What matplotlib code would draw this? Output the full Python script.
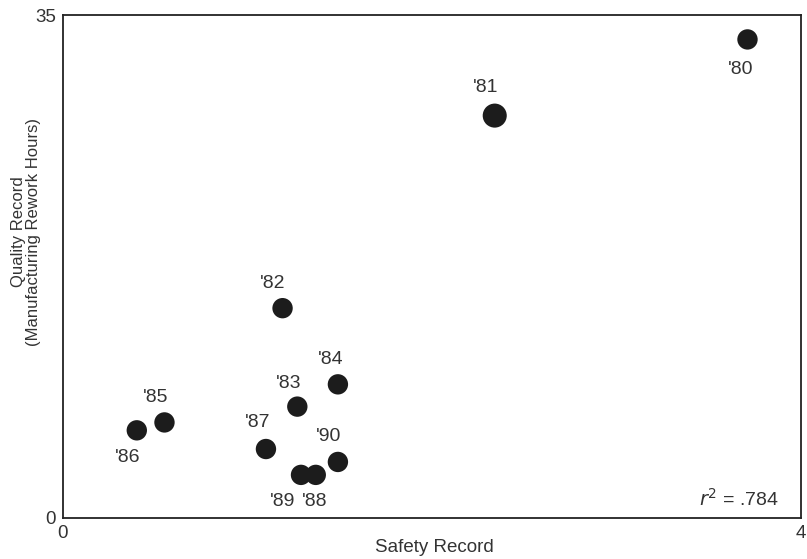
import matplotlib.pyplot as plt

# yearly safety vs quality record
years = ["'80", "'81", "'82", "'83", "'84", "'85", "'86", "'87", "'88", "'89", "'90"]
safety = [3.71, 2.34, 1.19, 1.27, 1.49, 0.55, 0.40, 1.10, 1.37, 1.29, 1.49]
quality = [33.3, 28.0, 14.6, 7.75, 9.3, 6.65, 6.1, 4.8, 3.0, 3.0, 3.9]
r_squared = '.784'

# label offsets in points (dx, dy)
offsets = {
    "'80": (-5, -22), "'81": (-6.5, 20), "'82": (-7, 18), "'83": (-6, 17),
    "'84": (-5, 18), "'85": (-6.5, 18), "'86": (-6.5, -19.5), "'87": (-6, 19),
    "'88": (-0.7, -19), "'89": (-13, -19), "'90": (-6.5, 18),
}

plt.rcParams['font.family'] = ['Liberation Sans', 'DejaVu Sans']
FS = 14
TXT = '#333333'

fig = plt.figure(figsize=(8.07, 5.59), dpi=100)
ax = fig.add_axes([63 / 807, 41 / 559, 738 / 807, 503 / 559])

sizes = [215 if y != "'81" else 300 for y in years]
ax.scatter(safety, quality, s=sizes, color='#1c1c1c', zorder=3, linewidths=0)

for yr, x, y in zip(years, safety, quality):
    dx, dy = offsets[yr]
    ax.annotate(yr, (x, y), xytext=(dx, dy), textcoords='offset points',
                ha='center', va='center', fontsize=FS, color=TXT)

ax.text(0.970, 0.038, r'$r^2$ = ' + r_squared, transform=ax.transAxes,
        ha='right', va='center', fontsize=FS, color=TXT)

ax.set_xlim(0, 4)
ax.set_ylim(0, 35)
ax.set_xticks([0, 4])
ax.set_yticks([0, 35])
ax.tick_params(length=0, labelsize=13.5, labelcolor=TXT, pad=5)
for s in ax.spines.values():
    s.set_linewidth(1.3)
    s.set_color('#222222')

fig.text(434 / 807, 1 - 547 / 559, 'Safety Record', ha='center', va='center',
         fontsize=13.5, color=TXT)
fig.text(26 / 807, 1 - 232 / 559, 'Quality Record\n(Manufacturing Rework Hours)',
         rotation=90, ha='center', va='center', fontsize=12, color=TXT,
         linespacing=1.05)

fig.savefig('out.png', dpi=100)
